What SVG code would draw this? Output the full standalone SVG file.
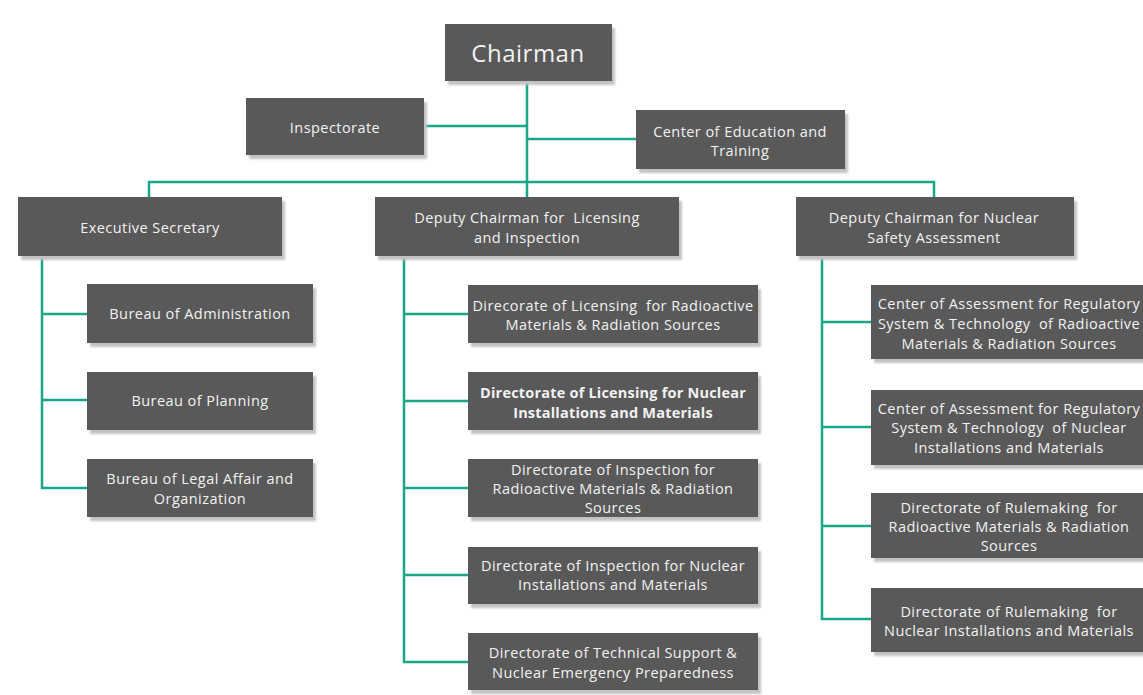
<svg xmlns="http://www.w3.org/2000/svg" width="1143" height="695" viewBox="0 0 1143 695">
<defs>
<filter id="sh" x="-5%" y="-10%" width="115%" height="130%">
<feGaussianBlur stdDeviation="1"/>
</filter>
</defs>
<style>
.bx{fill:#595959}
.sd{fill:#c2c2c2;filter:url(#sh)}
.t{font-family:"Open Sans","Liberation Sans",sans-serif;font-size:14.5px;letter-spacing:0.45px;fill:#f2f2f2;text-anchor:middle;dominant-baseline:central;white-space:pre}
.b{font-weight:bold;letter-spacing:0.2px}
.big{font-size:24px;letter-spacing:0.5px}
.c{stroke:#1ba68a;stroke-width:2.5;fill:none}
</style>
<rect width="1143" height="695" fill="#ffffff"/>
<g id="connectors">
<path class="c" d="M527 81V197M424 126H527M527 139H636M149 197V182H934V197"/>
<path class="c" d="M42 256V488H87M42 314H87M42 400H87"/>
<path class="c" d="M404 256V662H468M404 314H468M404 401H468M404 488H468M404 575H468"/>
<path class="c" d="M822 256V619H871M822 322H871M822 427H871M822 526H871"/>
</g>
<g id="chairman"><rect class="sd" x="448" y="28" width="167" height="57"/><rect class="bx" x="445" y="24" width="167" height="57"/><text class="t big" x="528" y="52">Chairman</text></g>
<g id="inspectorate"><rect class="sd" x="249" y="102" width="178" height="57"/><rect class="bx" x="246" y="98" width="178" height="57"/><text class="t" x="335" y="127">Inspectorate</text></g>
<g id="education"><rect class="sd" x="639" y="114" width="209" height="59"/><rect class="bx" x="636" y="110" width="209" height="59"/><text class="t" x="740" y="131">Center of Education and</text><text class="t" x="740" y="150">Training</text></g>
<g id="exec"><rect class="sd" x="21" y="201" width="264" height="59"/><rect class="bx" x="18" y="197" width="264" height="59"/><text class="t" x="150" y="227">Executive Secretary</text></g>
<g id="dep-li"><rect class="sd" x="378" y="201" width="304" height="59"/><rect class="bx" x="375" y="197" width="304" height="59"/><text class="t" x="527" y="217">Deputy Chairman for  Licensing</text><text class="t" x="527" y="237">and Inspection</text></g>
<g id="dep-nsa"><rect class="sd" x="799" y="201" width="278" height="59"/><rect class="bx" x="796" y="197" width="278" height="59"/><text class="t" x="934" y="217">Deputy Chairman for Nuclear</text><text class="t" x="934" y="237">Safety Assessment</text></g>
<g id="bureau-admin"><rect class="sd" x="90" y="288" width="226" height="59"/><rect class="bx" x="87" y="284" width="226" height="59"/><text class="t" x="200" y="313">Bureau of Administration</text></g>
<g id="bureau-planning"><rect class="sd" x="90" y="376" width="226" height="58"/><rect class="bx" x="87" y="372" width="226" height="58"/><text class="t" x="200" y="400">Bureau of Planning</text></g>
<g id="bureau-legal"><rect class="sd" x="90" y="463" width="226" height="58"/><rect class="bx" x="87" y="459" width="226" height="58"/><text class="t" x="200" y="478">Bureau of Legal Affair and</text><text class="t" x="200" y="498">Organization</text></g>
<g id="dir-lic-rad"><rect class="sd" x="471" y="289" width="290" height="58"/><rect class="bx" x="468" y="285" width="290" height="58"/><text class="t" x="613" y="305">Direcorate of Licensing  for Radioactive</text><text class="t" x="613" y="324">Materials &amp; Radiation Sources</text></g>
<g id="dir-lic-nuc"><rect class="sd" x="471" y="376" width="290" height="58"/><rect class="bx" x="468" y="372" width="290" height="58"/><text class="t b" x="613" y="392">Directorate of Licensing for Nuclear</text><text class="t b" x="613" y="412">Installations and Materials</text></g>
<g id="dir-insp-rad"><rect class="sd" x="471" y="463" width="290" height="58"/><rect class="bx" x="468" y="459" width="290" height="58"/><text class="t" x="613" y="469">Directorate of Inspection for</text><text class="t" x="613" y="488">Radioactive Materials &amp; Radiation</text><text class="t" x="613" y="507">Sources</text></g>
<g id="dir-insp-nuc"><rect class="sd" x="471" y="551" width="290" height="57"/><rect class="bx" x="468" y="547" width="290" height="57"/><text class="t" x="613" y="565">Directorate of Inspection for Nuclear</text><text class="t" x="613" y="584">Installations and Materials</text></g>
<g id="dir-tech"><rect class="sd" x="471" y="637" width="290" height="57"/><rect class="bx" x="468" y="633" width="290" height="57"/><text class="t" x="613" y="652">Directorate of Technical Support &amp;</text><text class="t" x="613" y="672">Nuclear Emergency Preparedness</text></g>
<g id="center-rad"><rect class="sd" x="874" y="289" width="278" height="74"/><rect class="bx" x="871" y="285" width="278" height="74"/><text class="t" x="1009" y="303">Center of Assessment for Regulatory</text><text class="t" x="1009" y="323">System &amp; Technology  of Radioactive</text><text class="t" x="1009" y="343">Materials &amp; Radiation Sources</text></g>
<g id="center-nuc"><rect class="sd" x="874" y="394" width="278" height="75"/><rect class="bx" x="871" y="390" width="278" height="75"/><text class="t" x="1009" y="408">Center of Assessment for Regulatory</text><text class="t" x="1009" y="427">System &amp; Technology  of Nuclear</text><text class="t" x="1009" y="447">Installations and Materials</text></g>
<g id="rule-rad"><rect class="sd" x="874" y="497" width="278" height="65"/><rect class="bx" x="871" y="493" width="278" height="65"/><text class="t" x="1009" y="507">Directorate of Rulemaking  for</text><text class="t" x="1009" y="526">Radioactive Materials &amp; Radiation</text><text class="t" x="1009" y="545">Sources</text></g>
<g id="rule-nuc"><rect class="sd" x="874" y="592" width="278" height="64"/><rect class="bx" x="871" y="588" width="278" height="64"/><text class="t" x="1009" y="611">Directorate of Rulemaking  for</text><text class="t" x="1009" y="630">Nuclear Installations and Materials</text></g>
</svg>
